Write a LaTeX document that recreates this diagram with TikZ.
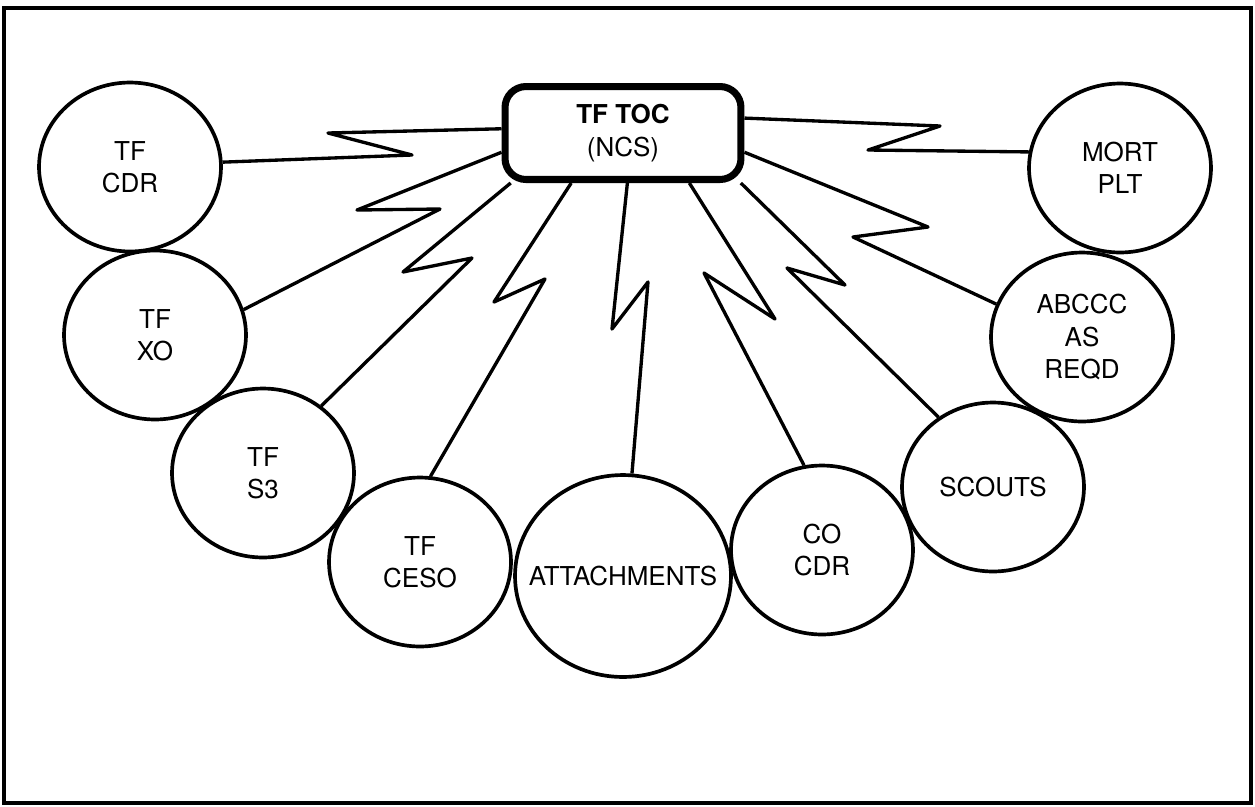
\documentclass[tikz,border=0pt]{standalone}
\usepackage{fontspec}
\setmainfont{TeX Gyre Heros}
\usetikzlibrary{shapes.geometric}

\newcommand{\lblfont}{\fontsize{14.8}{18.4}\selectfont}

\begin{document}
\begin{tikzpicture}[x=0.02cm,y=-0.02cm,
  unit/.style={ellipse,draw,line width=2.1pt,minimum width=3.64cm,
    minimum height=3.38cm,inner sep=0pt,align=center,font=\lblfont},
  hub/.style={draw,line width=4pt,rounded corners=0.42cm,minimum width=4.72cm,
    minimum height=1.86cm,inner sep=0pt,align=center,font=\lblfont},
  link/.style={line width=1.9pt,line join=round}]
  \useasboundingbox (0,0) rectangle (1255,806);
  % ---- outer frame ----
  \draw[line width=2.5pt] (4,8) rectangle (1251,803);
  % ---- net control station ----
  \node[hub] (toc) at (623,133) {\textbf{TF TOC}\\(NCS)};
  % ---- stations round the net ----
  \node[unit] (cdr)    at (130,167)  {TF\\CDR};
  \node[unit] (xo)     at (155,335)  {TF\\XO};
  \node[unit] (s3)     at (263,473)  {TF\\S3};
  \node[unit] (ceso)   at (420,562)  {TF\\CESO};
  \node[unit,minimum width=4.32cm,minimum height=4.04cm,inner xsep=-0.4cm]
    (att) at (623,576) {ATTACHMENTS};
  \node[unit] (cocdr)  at (822,550)  {CO\\CDR};
  \node[unit] (scouts) at (993,487)  {SCOUTS};
  \node[unit] (abccc)  at (1082,337) {ABCCC\\AS\\REQD};
  \node[unit] (mort)   at (1120,168) {MORT\\PLT};
  % ---- radio links (zigzag) ----
  \draw[link] (toc.178) -- (328,133) -- (412,155) -- (cdr.3);
  \draw[link] (toc.189) -- (357,210) -- (440,209) -- (xo.16);
  \draw[link] (toc.204) -- (403,272) -- (472,258) -- (s3.49);
  \draw[link] (toc.224) -- (494,302) -- (545,279) -- (ceso.83);
  \draw[link] (toc.275) -- (612,329) -- (648,282) -- (att.85);
  \draw[link] (toc.323) -- (775,319) -- (704,273) -- (cocdr.102);
  \draw[link] (toc.337) -- (845,285) -- (787,268) -- (scouts.128);
  \draw[link] (toc.351) -- (928,227) -- (853,237) -- (abccc.159);
  \draw[link] (toc.7)   -- (940,126) -- (868,150) -- (mort.170);
\end{tikzpicture}
\end{document}
